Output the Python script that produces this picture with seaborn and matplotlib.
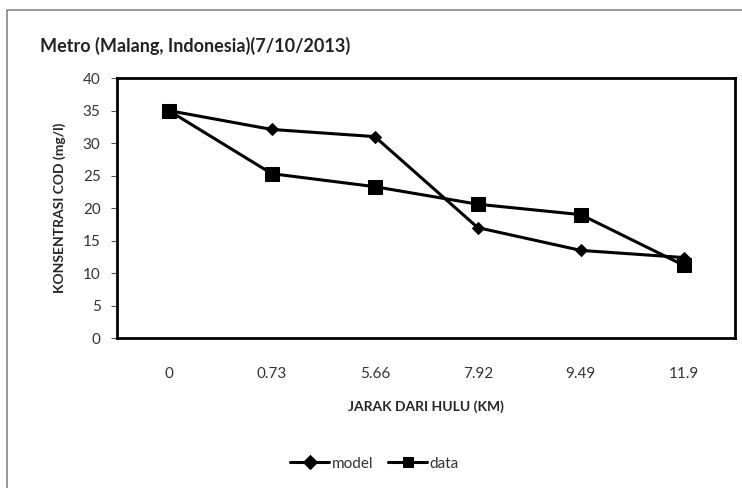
import seaborn as sns
import matplotlib.pyplot as plt
import pandas as pd
from matplotlib.patches import Rectangle

# values
jarak = ['0', '0.73', '5.66', '7.92', '9.49', '11.9']
model = [35, 32.1, 31, 17, 13.5, 12.4]
data = [35, 25.3, 23.3, 20.6, 19, 11.2]

df = pd.DataFrame({
    'jarak': jarak * 2,
    'cod': model + data,
    'seri': ['model'] * len(jarak) + ['data'] * len(jarak),
})

sns.set_style('white')
plt.rcParams['font.family'] = ['Lato', 'DejaVu Sans']

fig = plt.figure(figsize=(7.42, 4.88), dpi=100)
ax = fig.add_axes([0.158, 0.307, 0.833, 0.533])

sns.lineplot(data=df, x='jarak', y='cod', hue='seri', style='seri',
             palette={'model': 'black', 'data': 'black'},
             markers={'model': 'D', 'data': 's'},
             dashes=False, linewidth=2.2, sort=False, ax=ax)
for line in ax.lines:
    if line.get_marker() == 'D':
        line.set_markersize(6)
    else:
        line.set_markersize(10)
    line.set_markeredgecolor('black')
    line.set_markerfacecolor('black')

ax.set_xlim(-0.5, len(jarak) - 0.5)
ax.set_ylim(0, 40)
ax.set_yticks(range(0, 41, 5))
ax.tick_params(axis='both', labelsize=11, labelcolor='#333333')
ax.tick_params(axis='y', left=True, length=4, color='#555555', pad=8)
ax.tick_params(axis='x', bottom=False, pad=17)
for s in ax.spines.values():
    s.set_color('black')
    s.set_linewidth(2)

ax.set_xlabel('JARAK DARI HULU (KM)', fontsize=10, fontweight='bold', labelpad=14)
ax.set_ylabel('KONSENTRASI COD (mg/l)', fontsize=10, fontweight='bold', labelpad=12)

handles, labels = ax.get_legend_handles_labels()
for h in handles:
    h.set_markersize(7)
ax.legend(handles, labels, loc='center', bbox_to_anchor=(0.505, 0.05),
          bbox_transform=fig.transFigure, ncol=2, frameon=False,
          fontsize=11, handlelength=2.5, columnspacing=1.0, handletextpad=0.2,
          labelcolor='#333333')

fig.text(0.054, 0.905, 'Metro (Malang, Indonesia)(7/10/2013)', fontsize=13,
         fontweight='bold', ha='left', va='center', color='#222222')

# outer chart frame
fig.patches.append(Rectangle((0.009, -0.01), 1.0, 0.99, transform=fig.transFigure,
                             fill=False, edgecolor='#888888', linewidth=1.2))

fig.savefig('out.png', dpi=100)
